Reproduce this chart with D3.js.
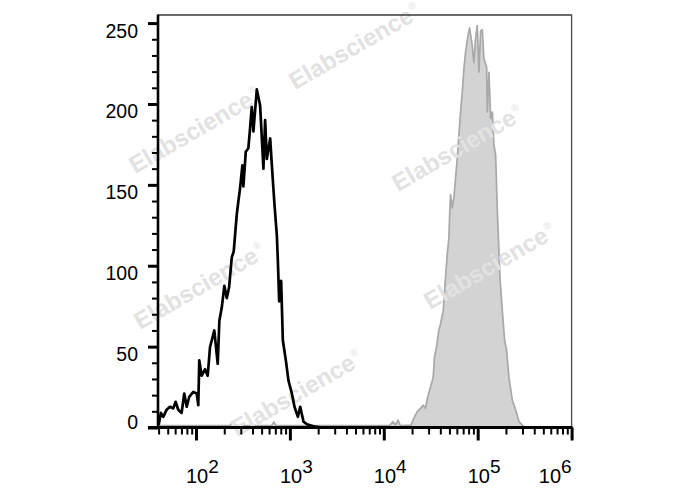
<!DOCTYPE html>
<html>
<head>
<meta charset="utf-8">
<script src="https://cdn.jsdelivr.net/npm/d3@7"></script>
<style>
  html, body { margin: 0; padding: 0; background: #ffffff; }
  svg { display: block; }
</style>
</head>
<body>
<script>
// ---------------- data ----------------
// unstained control (black outline histogram)
const blackX = [40, 42.3, 44.8, 48.7, 52.8, 57.3, 60.7, 64.7, 70.3, 75, 79.6, 84.8, 93.6, 101.7, 105.8,
  108.4, 115, 124.8, 133.3, 141, 156.7, 170.4, 177.4, 188, 200.4, 212.6, 225, 240.4, 252.5, 271.7,
  283, 294.9, 312, 319.8, 339, 361, 376.8, 392.8, 408.8, 444.4, 482, 522.6, 544.8, 568, 616.6,
  642.7, 685, 726, 744.7, 769, 807, 841.7, 905.6, 966, 1050, 1119, 1217, 1288, 1397, 1518, 1862, 2200, 1000000];
const blackCount = [1.5, 9, 6.6, 11, 12.8, 11.8, 15.9, 11, 9, 21, 12.8, 19, 22, 21, 13.8,
  41.5, 32, 36, 32, 49.6, 60, 39.4, 66, 74, 87.6, 80, 86.5, 105, 109, 131.6,
  140, 148, 162, 149, 170.5, 172.6, 185, 198, 183, 209, 199, 160, 190, 166, 178.7,
  162, 138, 119, 103, 78, 90.6, 53.8, 41.5, 29, 21, 12.8, 6.6, 12.8, 3.6, 2, 0.5, 0, 0];

// stained sample (grey filled histogram)
const greyX = [40, 230, 248, 265, 640, 676, 710, 11500, 12530, 13300, 14160, 15000, 19500,
  20840, 22650, 24580, 26260, 27780, 29410, 31420, 33570, 34660, 36400, 38540, 40180, 42950,
  45420, 47390, 49280, 50480, 51370, 53550, 55700, 60560, 65700, 68520, 71250, 74300, 78570,
  81950, 87550, 91060, 94970, 99010, 103000, 107400, 112000, 116500, 124500, 126600, 131800,
  137400, 143300, 149000, 155300, 161900, 172600, 183000, 193700, 203300, 215200, 233900,
  253800, 275400, 299200, 320000];
const greyCount = [1.2, 1.2, 3.5, 1.2, 1.2, 3.5, 1.2, 1.2, 3.6, 1.5, 4.6, 1.2, 1.5,
  5.6, 9.7, 11.8, 13.8, 11.8, 19, 25, 31, 43.5, 49.6, 60, 64, 72,
  92.7, 107, 117, 133.7, 144, 135.7, 141.9, 166.4, 195, 207.5, 221.7, 232, 242,
  247, 236, 225.6, 240.6, 248.5, 219.6, 245, 246, 228, 222.8, 195, 219.6,
  191, 195, 174.6, 168.4, 133.7, 92.7, 72, 53.8, 47.6, 31, 16.9,
  10.8, 3.6, 1.5, 0];

const yMajorTicks = [0, 50, 100, 150, 200, 250];
const yMinorTicks = [10, 20, 30, 40, 60, 70, 80, 90, 110, 120, 130, 140, 160, 170, 180, 190, 210, 220, 230, 240];
const xMajorExponents = [2, 3, 4, 5, 6];
const xMinorMultipliers = [2, 3, 4, 5, 6, 7, 8, 9];
const watermarkText = "Elabscience";
const watermarkMark = "®";

// ---------------- layout ----------------
const W = 688, H = 490;
const mLeft = 158, mRight = 571.6, mTop = 15, mBottom = 427.5;
const font = "'Liberation Sans', Arial, Helvetica, sans-serif";

const svg = d3.select("body").append("svg")
  .attr("width", W).attr("height", H)
  .attr("viewBox", `0 0 ${W} ${H}`);
svg.append("rect").attr("width", W).attr("height", H).attr("fill", "#ffffff");

const x = d3.scaleLog().domain([39.4, 1e6]).range([mLeft, mRight]);
const y = d3.scaleLinear().domain([0, 255]).range([mBottom, mTop]);

// grey filled histogram
const greyData = greyX.map((v, i) => [v, greyCount[i]]);
const area = d3.area().x(d => x(d[0])).y0(y(0)).y1(d => y(d[1]));
const line = d3.line().x(d => x(d[0])).y(d => y(d[1]));
svg.append("path").datum(greyData).attr("d", area).attr("fill", "#d3d3d3");
svg.append("path").datum(greyData).attr("d", line)
  .attr("fill", "none").attr("stroke", "#a8a8a8").attr("stroke-width", 1.7)
  .attr("stroke-linejoin", "round");

// watermarks
const wmPositions = [[135, 174], [295, 90], [398, 192], [140, 330], [430, 310], [237, 437]];
wmPositions.forEach(p => {
  const t = svg.append("text")
    .attr("transform", `translate(${p[0]},${p[1]}) rotate(-30)`)
    .attr("font-family", font).attr("font-weight", "bold").attr("font-size", 24)
    .attr("fill", "#e2e2e2");
  t.append("tspan").text(watermarkText);
  t.append("tspan").attr("dx", 1).attr("dy", -11).attr("font-size", 10).attr("font-weight", "normal").text(watermarkMark);
});

// black histogram
const blackData = blackX.map((v, i) => [v, blackCount[i]]);
svg.append("path").datum(blackData).attr("d", line)
  .attr("fill", "none").attr("stroke", "#000").attr("stroke-width", 2.7)
  .attr("stroke-linejoin", "round");

// frame top/right
svg.append("line").attr("x1", mLeft).attr("x2", mRight + 0.5).attr("y1", mTop).attr("y2", mTop)
  .attr("stroke", "#3a3a3a").attr("stroke-width", 1.4);
svg.append("line").attr("x1", mRight).attr("x2", mRight).attr("y1", mTop).attr("y2", mBottom)
  .attr("stroke", "#555").attr("stroke-width", 1.4);

// Y axis
const yMinorAxis = d3.axisLeft(y).tickValues(yMinorTicks).tickSize(6).tickFormat("");
const gyMin = svg.append("g").attr("transform", `translate(${mLeft},0)`).call(yMinorAxis);
gyMin.select(".domain").remove();
gyMin.selectAll("line").attr("stroke", "#000").attr("stroke-width", 2);

const yAxis = d3.axisLeft(y).tickValues(yMajorTicks).tickSize(10).tickPadding(10).tickFormat(d3.format("d"));
const gy = svg.append("g").attr("transform", `translate(${mLeft},0)`).call(yAxis);
gy.select(".domain").remove();
gy.selectAll("line").attr("stroke", "#000").attr("stroke-width", 3);
gy.selectAll("text")
  .attr("font-family", font).attr("font-size", 19.5).attr("fill", "#000")
  .attr("x", -20)
  .attr("dy", d => d === 0 ? "0.5" : "14");
svg.append("line").attr("x1", mLeft).attr("x2", mLeft).attr("y1", mTop - 0.5).attr("y2", mBottom + 1)
  .attr("stroke", "#000").attr("stroke-width", 2.6);

// X axis
const minorVals = [];
for (let e = 1; e <= 5; e++) xMinorMultipliers.forEach(m => {
  const v = m * Math.pow(10, e);
  if (v >= x.domain()[0] && v <= x.domain()[1]) minorVals.push(v);
});
const majorVals = xMajorExponents.map(e => Math.pow(10, e));

const xMinorAxis = d3.axisBottom(x).tickValues(minorVals).tickSize(7).tickFormat("");
const gxMin = svg.append("g").attr("transform", `translate(0,${mBottom})`).call(xMinorAxis);
gxMin.select(".domain").remove();
gxMin.selectAll("line").attr("stroke", "#000").attr("stroke-width", 2);

const xAxis = d3.axisBottom(x).tickValues(majorVals).tickSize(13).tickFormat("");
const gx = svg.append("g").attr("transform", `translate(0,${mBottom})`).call(xAxis);
gx.select(".domain").remove();
gx.selectAll("line").attr("stroke", "#000").attr("stroke-width", 3);

svg.append("line").attr("x1", mLeft - 10).attr("x2", mRight + 1).attr("y1", mBottom).attr("y2", mBottom)
  .attr("stroke", "#000").attr("stroke-width", 3);

// x tick labels 10^n
xMajorExponents.forEach((e, i) => {
  const px = x(Math.pow(10, e));
  const last = i === xMajorExponents.length - 1;
  const t = svg.append("text")
    .attr("font-family", font).attr("font-size", 20).attr("fill", "#000")
    .attr("y", 483)
    .attr("x", last ? mRight : px - 10)
    .attr("text-anchor", last ? "end" : "start");
  t.append("tspan").text("10");
  t.append("tspan").attr("dy", -10.5).attr("font-size", 19).text(String(e));
});
</script>
</body>
</html>
